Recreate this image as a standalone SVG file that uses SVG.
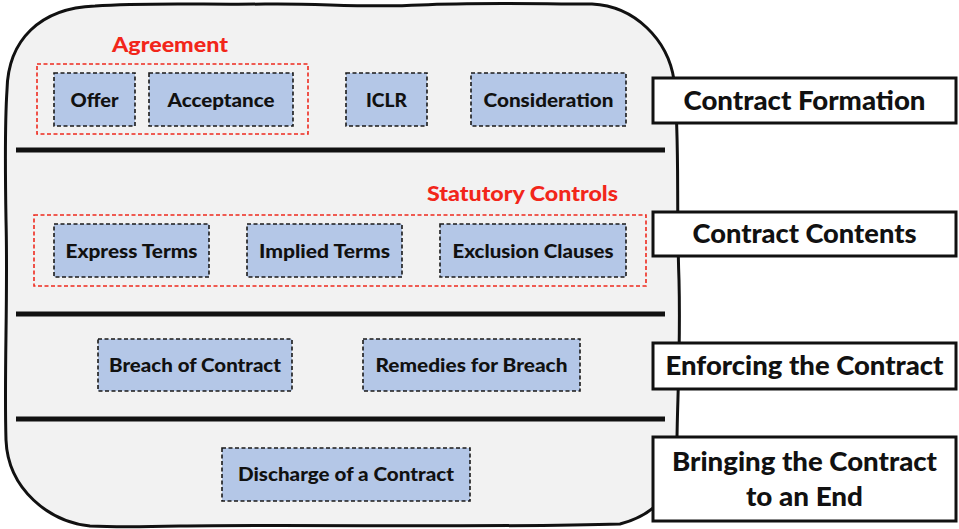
<svg xmlns="http://www.w3.org/2000/svg" width="959" height="529" viewBox="0 0 959 529">
  <style>
    text { font-family: Lato, "Open Sans", "Liberation Sans", sans-serif; font-weight: 900; text-anchor: middle; }
    .topic { fill: #b4c7e7; stroke: #1a1a1a; stroke-width: 1.6; stroke-dasharray: 4 2.5; }
    .topic-label { font-size: 19px; fill: #111; }
    .group { fill: none; stroke: #ee2a1e; stroke-width: 1.6; stroke-dasharray: 4 2.5; }
    .group-label { font-size: 21px; fill: #f2261a; }
    .stage { fill: #ffffff; stroke: #111; stroke-width: 3; }
    .stage-label { font-size: 27px; fill: #111; }
    .divider { stroke: #111; stroke-width: 5; }
  </style>

  <!-- hand-drawn panel holding all topics -->
  <path id="panel" fill="#f2f2f2" stroke="#111" stroke-width="3" stroke-linejoin="round"
        d="M 95,6 C 150,2 210,5 265,4 C 320,3 360,8 420,5 C 480,2 540,4 592,4
           C 635,6 668,40 674,80 C 680,140 676,200 679,280 C 681,360 676,420 677,460
           C 677,490 655,515 620,524 C 500,528 300,524 180,526 C 140,527 110,527 90,526
           C 50,522 8,490 6,440 C 4,370 8,300 6,220 C 5,160 5,120 7,90
           C 8,40 40,8 95,6 Z"/>

  <!-- section dividers -->
  <g id="dividers">
    <line class="divider" x1="16" y1="150" x2="665" y2="150"/>
    <line class="divider" x1="16" y1="314" x2="665" y2="314"/>
    <line class="divider" x1="16" y1="419" x2="665" y2="419"/>
  </g>

  <!-- formation row -->
  <g id="agreement">
    <rect class="group" x="37" y="64" width="271" height="70"/>
    <text class="group-label" x="170" y="52" textLength="116" lengthAdjust="spacingAndGlyphs">Agreement</text>
  </g>
  <g id="offer">
    <rect class="topic" x="54" y="73" width="81" height="53"/>
    <text class="topic-label" x="94.5" y="107" textLength="48" lengthAdjust="spacingAndGlyphs">Offer</text>
  </g>
  <g id="acceptance">
    <rect class="topic" x="149" y="73" width="144" height="53"/>
    <text class="topic-label" x="221" y="107" textLength="107" lengthAdjust="spacingAndGlyphs">Acceptance</text>
  </g>
  <g id="iclr">
    <rect class="topic" x="346" y="73" width="81" height="53"/>
    <text class="topic-label" x="386.5" y="107" textLength="41" lengthAdjust="spacingAndGlyphs">ICLR</text>
  </g>
  <g id="consideration">
    <rect class="topic" x="471" y="73" width="155" height="53"/>
    <text class="topic-label" x="548.5" y="107" textLength="130" lengthAdjust="spacingAndGlyphs">Consideration</text>
  </g>

  <!-- contents row -->
  <g id="statutory-controls">
    <rect class="group" x="34" y="215" width="612" height="71"/>
    <text class="group-label" x="522.5" y="201" textLength="191" lengthAdjust="spacingAndGlyphs">Statutory Controls</text>
  </g>
  <g id="express-terms">
    <rect class="topic" x="54" y="224" width="155" height="53"/>
    <text class="topic-label" x="131.5" y="258" textLength="132" lengthAdjust="spacingAndGlyphs">Express Terms</text>
  </g>
  <g id="implied-terms">
    <rect class="topic" x="247" y="224" width="155" height="53"/>
    <text class="topic-label" x="324.5" y="258" textLength="131" lengthAdjust="spacingAndGlyphs">Implied Terms</text>
  </g>
  <g id="exclusion-clauses">
    <rect class="topic" x="440" y="224" width="186" height="53"/>
    <text class="topic-label" x="533" y="258" textLength="161" lengthAdjust="spacingAndGlyphs">Exclusion Clauses</text>
  </g>

  <!-- enforcement row -->
  <g id="breach">
    <rect class="topic" x="98" y="339" width="194" height="52"/>
    <text class="topic-label" x="195" y="372" textLength="172" lengthAdjust="spacingAndGlyphs">Breach of Contract</text>
  </g>
  <g id="remedies">
    <rect class="topic" x="363" y="339" width="217" height="52"/>
    <text class="topic-label" x="471.5" y="372" textLength="192" lengthAdjust="spacingAndGlyphs">Remedies for Breach</text>
  </g>

  <!-- discharge row -->
  <g id="discharge">
    <rect class="topic" x="222" y="448" width="248" height="53"/>
    <text class="topic-label" x="346" y="481" textLength="216" lengthAdjust="spacingAndGlyphs">Discharge of a Contract</text>
  </g>

  <!-- stage labels -->
  <g id="stage-formation">
    <rect class="stage" x="653" y="78" width="303" height="45"/>
    <text class="stage-label" x="804.5" y="110" textLength="242" lengthAdjust="spacingAndGlyphs">Contract Formation</text>
  </g>
  <g id="stage-contents">
    <rect class="stage" x="653" y="212" width="303" height="44"/>
    <text class="stage-label" x="804.5" y="243" textLength="224" lengthAdjust="spacingAndGlyphs">Contract Contents</text>
  </g>
  <g id="stage-enforcing">
    <rect class="stage" x="653" y="343" width="303" height="46"/>
    <text class="stage-label" x="804.5" y="375" textLength="278" lengthAdjust="spacingAndGlyphs">Enforcing the Contract</text>
  </g>
  <g id="stage-ending">
    <rect class="stage" x="653" y="437" width="303" height="84"/>
    <text class="stage-label" x="804.5" y="471" textLength="265" lengthAdjust="spacingAndGlyphs">Bringing the Contract</text>
    <text class="stage-label" x="804.5" y="506" textLength="117" lengthAdjust="spacingAndGlyphs">to an End</text>
  </g>
</svg>
